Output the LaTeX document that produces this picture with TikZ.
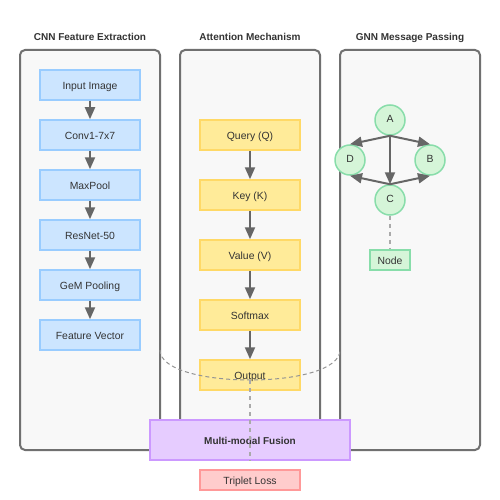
\documentclass[tikz,border=0pt]{standalone}
\usepackage{fontspec}
\setmainfont{Liberation Sans}
\usetikzlibrary{arrows.meta}

\definecolor{panelfill}{HTML}{F8F8F8}
\definecolor{panelline}{HTML}{707070}
\definecolor{textgray}{HTML}{333333}
\definecolor{arrowgray}{HTML}{666666}
\definecolor{dashgray}{HTML}{AAAAAA}
\definecolor{bluefill}{HTML}{CCE5FF}
\definecolor{bluedraw}{HTML}{99CCFF}
\definecolor{yellowfill}{HTML}{FFEB99}
\definecolor{yellowdraw}{HTML}{FFD966}
\definecolor{greenfill}{HTML}{D5F5D8}
\definecolor{greendraw}{HTML}{88DDAA}
\definecolor{purplefill}{HTML}{E6CCFF}
\definecolor{purpledraw}{HTML}{CC99FF}
\definecolor{redfill}{HTML}{FFCCCC}
\definecolor{reddraw}{HTML}{FF9999}

\begin{document}
\begin{tikzpicture}[x=1pt,y=-1pt,font=\fontsize{10.4}{12}\selectfont,
    every node/.append style={text height=9pt,text depth=0pt}]

      \useasboundingbox (0,0) rectangle (500,500);

      \begin{scope}[every node/.style={draw=panelline,fill=panelfill,line width=2pt,rounded corners=5pt,minimum width=140pt,minimum height=400pt}]
        \node (cnn) at (90,250)  {};
        \node (att) at (250,250) {};
        \node (gnn) at (410,250) {};
      \end{scope}

      \begin{scope}[every node/.style={font=\fontsize{10}{12}\selectfont\bfseries,text=textgray,text height=9pt,text depth=0pt}]
        \node (cnntitle) at (90,36)  {CNN Feature Extraction};
        \node (atttitle) at (250,36) {Attention Mechanism};
        \node (gnntitle) at (410,36) {GNN Message Passing};
      \end{scope}

      \begin{scope}[every node/.style={draw=bluedraw,fill=bluefill,line width=1.5pt,minimum width=100pt,minimum height=30pt,text=textgray,text height=9pt,text depth=0pt}]
        \node (input)   at (90,85)  {Input Image};
        \node (conv)    at (90,135) {Conv1-7x7};
        \node (maxpool) at (90,185) {MaxPool};
        \node (resnet)  at (90,235) {ResNet-50};
        \node (gem)     at (90,285) {GeM Pooling};
        \node (feat)    at (90,335) {Feature Vector};
      \end{scope}

      \begin{scope}[every node/.style={draw=yellowdraw,fill=yellowfill,line width=1.5pt,minimum width=100pt,minimum height=30pt,text=textgray,text height=9pt,text depth=0pt}]
        \node (query)   at (250,135) {Query (Q)};
        \node (key)     at (250,195) {Key (K)};
        \node (value)   at (250,255) {Value (V)};
        \node (softmax) at (250,315) {Softmax};
        \node (output)  at (250,375) {Output};
      \end{scope}

      \begin{scope}[every node/.style={circle,draw=greendraw,fill=greenfill,line width=1.5pt,minimum size=30pt,inner sep=0pt,text=textgray,text height=5pt,text depth=0pt}]
        \node (A) at (390,120) {A};
        \node (B) at (430,160) {B};
        \node (C) at (390,200) {C};
        \node (D) at (350,160) {D};
      \end{scope}

      \node[draw=greendraw,fill=greenfill,line width=1.5pt,minimum width=40pt,minimum height=20pt,text=textgray] (msg) at (390,260) {Node};

      \begin{scope}[every edge/.style={draw=arrowgray,line width=2pt,-{Triangle[length=12pt,width=10pt]}}]
        \path (input)   edge (conv);
        \path (conv)    edge (maxpool);
        \path (maxpool) edge (resnet);
        \path (resnet)  edge (gem);
        \path (gem)     edge (feat);
        \path (query)   edge (key);
        \path (key)     edge (value);
        \path (value)   edge (softmax);
        \path (softmax) edge (output);
        \path (A.south) edge (D.north);
        \path (A.south) edge (B.north);
        \path (A.south) edge (C.north);
        \path (C.north) edge (D.south);
        \path (C.north) edge (B.south);
      \end{scope}

      \node[draw=purpledraw,fill=purplefill,line width=1.5pt,minimum width=200pt,minimum height=40pt,text=textgray,font=\fontsize{10}{12}\selectfont\bfseries] (fusion) at (250,440) {Multi-modal Fusion};
      \node[draw=reddraw,fill=redfill,line width=1.5pt,minimum width=100pt,minimum height=20pt,text=textgray] (loss) at (250,480) {Triplet Loss};

      % dashed links
      \coordinate (cnnend) at (160,350);
      \coordinate (gnnend) at (340,350);
      \draw[arrowgray!70,line width=1pt,dash pattern=on 4pt off 3pt] (cnnend) .. controls (160,390) and (340,390) .. (gnnend);
      \path[every edge/.style={draw=dashgray,line width=1.5pt,dash pattern=on 4pt off 4pt}]
        (C) edge (msg)
        ([yshift=-5pt]output.center) edge (fusion.south);

    \end{tikzpicture}
\end{document}
